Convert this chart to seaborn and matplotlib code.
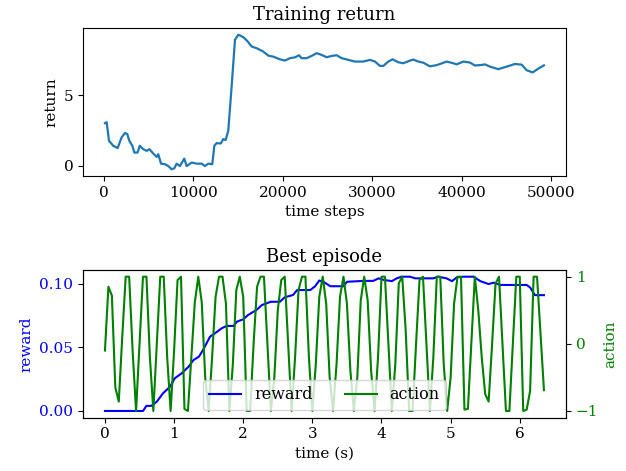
import numpy as np
import pandas as pd
import matplotlib
matplotlib.use("Agg")
import matplotlib.pyplot as plt
import seaborn as sns

# ---------------- data ----------------
train_steps = [110, 300, 560, 1040, 1530, 1970, 2350, 2600, 2830, 3170, 3390, 3760, 3990,
               4390, 4770, 5070, 5510, 5890, 6070, 6370, 6820, 7190, 7560, 7860, 8120, 8490,
               8970, 9240, 9800, 10360, 10910, 11280, 11650, 12100, 12330, 12590, 13070,
               13330, 13600, 13890, 14260, 14640, 15010, 15560, 16060, 16500, 17060, 17800,
               18360, 18920, 19660, 20220, 20780, 21340, 21790, 22080, 22650, 23200, 23760,
               24320, 24880, 25440, 26000, 26560, 27300, 28040, 28970, 29720, 30280, 30840,
               31210, 31770, 32250, 32880, 33440, 34190, 34560, 35120, 35680, 36420, 37200,
               38290, 39030, 39400, 40150, 40890, 41450, 42200, 42570, 43130, 44060, 45000,
               45920, 46670, 47230, 47900, 48530, 49160]
train_return = [3.02, 3.09, 1.77, 1.41, 1.25, 2.01, 2.32, 2.25, 1.77, 1.41, 0.93, 0.93, 1.41,
                1.17, 1.05, 1.17, 0.86, 0.62, 0.81, 0.14, 0.10, -0.03, -0.26, -0.19, 0.14, -0.03,
                0.50, -0.03, 0.22, 0.14, 0.14, -0.03, 0.14, 0.10, 1.41, 1.60, 1.58,
                1.89, 1.82, 2.49, 5.60, 8.95, 9.31, 9.14, 8.83, 8.47, 8.35, 8.11,
                7.82, 7.75, 7.56, 7.47, 7.64, 7.70, 7.85, 7.64, 7.64, 7.80, 8.00,
                7.87, 7.71, 7.80, 7.85, 7.64, 7.52, 7.40, 7.40, 7.52, 7.40, 7.09,
                7.09, 7.40, 7.56, 7.35, 7.28, 7.47, 7.54, 7.40, 7.32, 7.06, 7.15,
                7.40, 7.28, 7.20, 7.40, 7.33, 7.12, 7.16, 7.20, 7.04, 6.86, 7.04,
                7.23, 7.18, 6.78, 6.63, 6.90, 7.13]

reward_time = [0.00, 0.55, 0.60, 0.67, 0.75, 0.84, 0.94, 1.01, 1.11, 1.21, 1.28, 1.36, 1.42,
               1.52, 1.59, 1.69, 1.76, 1.86, 1.91, 2.00, 2.07, 2.19, 2.27, 2.34, 2.40, 2.53,
               2.60, 2.72, 2.78, 2.97, 3.04, 3.10, 3.16, 3.26, 3.45, 3.50, 3.74, 3.88, 3.96,
               4.03, 4.15, 4.22, 4.29, 4.41, 4.49, 4.75, 4.82, 4.94, 5.02, 5.09, 5.19, 5.33,
               5.43, 5.55, 5.62, 5.72, 6.10, 6.15, 6.22, 6.35]
reward = [0.0, 0.0, 0.004, 0.004, 0.0073, 0.0139, 0.019, 0.0257, 0.0296, 0.0348, 0.040, 0.0427,
          0.048, 0.0584, 0.061, 0.065, 0.0668, 0.0668, 0.0702, 0.072, 0.0754, 0.0793, 0.0832,
          0.0846, 0.0858, 0.0858, 0.0893, 0.0911, 0.095, 0.095, 0.098, 0.1025, 0.1015, 0.098,
          0.098, 0.1015, 0.1022, 0.1022, 0.1042, 0.103, 0.102, 0.1042, 0.1055, 0.1055, 0.1042,
          0.1042, 0.1055, 0.1042, 0.102, 0.105, 0.1055, 0.1055, 0.102, 0.0997, 0.1008, 0.099,
          0.099, 0.097, 0.091, 0.091]

action_dt = 0.05
action = [-0.10, 0.85, 0.72, -0.65, -0.86, 0.10, 1.00, 1.00, -0.10, -1.00,
          0.00, 1.00, 1.00, -0.20, -1.00, 0.00, 1.00, 1.00, -0.20, -1.00,
          -0.10, 0.95, 1.00, -0.97, -1.00, -0.20, 0.62, 1.00, 0.62, -0.50,
          -1.00, -0.20, 0.70, 1.00, 1.00, 0.60, -1.00, -0.30, 0.80, 1.00,
          0.70, -1.00, -1.00, 0.00, 0.85, 1.00, 1.00, 0.00, -1.00, -0.50,
          0.50, 0.95, 1.00, 0.00, -1.00, -0.20, 0.80, 1.00, 1.00, -0.20,
          -1.00, -0.30, 0.70, 1.00, 0.60, -0.50, -1.00, -0.30, 0.70, 1.00,
          0.60, -0.40, -1.00, -0.50, 0.65, 1.00, 0.65, -0.40, -1.00, -0.20,
          1.00, 1.00, 0.00, -1.00, -0.30, 0.90, 1.00, 0.20, -1.00, -1.00,
          0.00, 0.95, 1.00, 0.00, -1.00, -0.20, 1.00, 1.00, -0.30, -1.00,
          -0.50, 0.60, 1.00, 1.00, -0.98, -0.97, 0.00, 1.00, 0.50, -0.20,
          -0.75, -0.86, 0.00, 0.90, 1.00, 0.00, -1.00, -1.00, 0.00, 1.00,
          1.00, -1.00, -0.98, -0.70, 1.00, 1.00, 0.15, -0.69]
action_time = np.round(np.arange(len(action)) * action_dt, 2)

# ---------------- plot ----------------
plt.rcParams['font.family'] = ['DejaVu Serif']
plt.rcParams['xtick.labelsize'] = 11
plt.rcParams['ytick.labelsize'] = 11
plt.rcParams['axes.labelsize'] = 11
fig = plt.figure(figsize=(6.26, 4.71), dpi=100)
ax1 = fig.add_axes([0.1326, 0.6263, 0.7714, 0.3143])
axb = fig.add_axes([0.1326, 0.1132, 0.7714, 0.3136])

sns.lineplot(x=train_steps, y=train_return, ax=ax1, color='#1f77b4', linewidth=1.6)
ax1.set_title('Training return', fontsize=13)
ax1.set_xlabel('time steps')
ax1.set_ylabel('return')
ax1.set_xticks([0, 10000, 20000, 30000, 40000, 50000])
ax1.set_yticks([0, 5])

sns.lineplot(x=reward_time, y=reward, ax=axb, color='blue', linewidth=1.5, label='reward')
axb.set_title('Best episode', fontsize=13)
axb.set_xlabel('time (s)')
axb.set_ylabel('reward', color='blue')
axb.tick_params(axis='y', labelcolor='blue')
axb.set_yticks([0.0, 0.05, 0.10])
axb.set_yticklabels(['0.00', '0.05', '0.10'])

ax2 = axb.twinx()
sns.lineplot(x=action_time, y=action, ax=ax2, color='green', linewidth=1.5, label='action')
ax2.set_ylabel('action', color='green')
ax2.tick_params(axis='y', labelcolor='green')
ax2.set_yticks([-1, 0, 1])

h1, l1 = axb.get_legend_handles_labels()
h2, l2 = ax2.get_legend_handles_labels()
if axb.get_legend() is not None:
    axb.get_legend().remove()
ax2.legend(h1 + h2, l1 + l2, loc='lower center', ncol=2, fontsize=11.5)

fig.savefig('out.png', dpi=100)
